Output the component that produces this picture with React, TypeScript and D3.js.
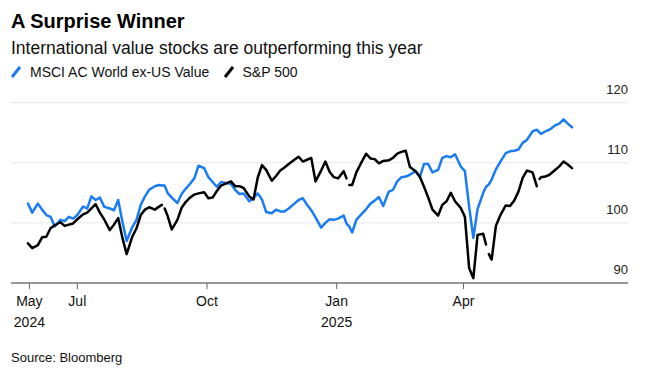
import React from 'react';
import * as d3 from 'd3';

const dates = [
  '2024-05-27','2024-05-30','2024-06-03','2024-06-06','2024-06-09','2024-06-12','2024-06-15','2024-06-19','2024-06-22','2024-06-25',
  '2024-06-28','2024-07-01','2024-07-05','2024-07-08','2024-07-11','2024-07-14','2024-07-17','2024-07-20','2024-07-24','2024-07-27',
  '2024-07-30','2024-08-02','2024-08-05','2024-08-09','2024-08-12','2024-08-15','2024-08-18','2024-08-21','2024-08-25','2024-08-28',
  '2024-08-30','2024-08-31','2024-09-01','2024-09-03','2024-09-06','2024-09-10','2024-09-13','2024-09-16','2024-09-19','2024-09-22',
  '2024-09-25','2024-09-29','2024-10-02','2024-10-05','2024-10-08','2024-10-11','2024-10-15','2024-10-18','2024-10-21','2024-10-24',
  '2024-10-27','2024-10-31','2024-11-03','2024-11-06','2024-11-09','2024-11-12','2024-11-16','2024-11-19','2024-11-22','2024-11-25',
  '2024-11-28','2024-12-02','2024-12-05','2024-12-08','2024-12-11','2024-12-14','2024-12-17','2024-12-21','2024-12-24','2024-12-27',
  '2024-12-30','2025-01-02','2025-01-06','2025-01-08','2025-01-09','2025-01-10','2025-01-12','2025-01-15','2025-01-18','2025-01-22',
  '2025-01-25','2025-01-28','2025-01-31','2025-02-03','2025-02-07','2025-02-10','2025-02-13','2025-02-16','2025-02-19','2025-02-22',
  '2025-02-26','2025-03-01','2025-03-04','2025-03-07','2025-03-10','2025-03-14','2025-03-17','2025-03-20','2025-03-23','2025-03-26',
  '2025-03-30','2025-04-02','2025-04-05','2025-04-08','2025-04-11','2025-04-15','2025-04-17','2025-04-18','2025-04-19','2025-04-21',
  '2025-04-24','2025-04-27','2025-05-01','2025-05-04','2025-05-07','2025-05-10','2025-05-13','2025-05-16','2025-05-20','2025-05-23',
  '2025-05-24','2025-05-25','2025-05-26','2025-05-29','2025-06-01','2025-06-05','2025-06-08','2025-06-11','2025-06-14','2025-06-17',
];

const msciValues = [
  103.2, 101.7, 103.2, 102.2, 101.3, 101.0, 99.4, 100.5, 100.3, 101.0,
  100.7, 101.3, 102.7, 102.4, 104.4, 103.8, 104.2, 102.7, 102.4, 102.1,
  103.8, 100.2, 97.0, 99.3, 100.5, 103.0, 104.4, 105.5, 106.1, 106.3,
  106.2, 106.2, 106.2, 105.0, 104.2, 103.3, 104.8, 105.7, 106.5, 107.4,
  109.5, 109.1, 107.6, 106.8, 106.0, 106.8, 106.6, 106.5, 105.5, 104.8,
  104.9, 103.6, 104.1, 104.9, 103.9, 101.8, 101.6, 102.2, 101.9, 101.9,
  102.4, 103.2, 103.8, 104.1, 103.0, 102.1, 100.9, 99.2, 100.0, 100.6,
  100.5, 100.7, 101.2, 99.9, 99.6, 99.4, 98.4, 100.5, 101.3, 102.3,
  103.2, 103.7, 104.3, 102.8, 105.2, 105.5, 106.9, 107.6, 107.7, 108.0,
  108.6, 107.6, 109.8, 109.8, 108.4, 108.8, 110.8, 111.1, 110.9, 111.4,
  109.4, 108.6, 102.7, 97.5, 102.3, 105.0, 106.0, 106.2, 106.4, 107.2,
  108.9, 110.1, 111.6, 111.9, 112.0, 112.2, 113.3, 113.8, 115.2, 115.5,
  115.3, 115.0, 114.8, 115.2, 115.5, 116.2, 116.5, 117.2, 116.5, 115.9,
];

const spxValues: (number | null)[] = [
  96.6, 95.8, 96.3, 97.6, 97.7, 99.1, 99.6, 100.1, 99.5, 99.7,
  99.9, 100.6, 101.4, 101.7, 102.4, 103.1, 101.7, 100.6, 98.8, 99.7,
  100.8, 97.5, 94.8, 97.7, 99.1, 101.3, 102.2, 102.6, 102.2, 102.7,
  103.0, null, 102.4, 101.2, 98.9, 100.5, 102.5, 103.5, 104.2, 104.7,
  104.9, 105.1, 104.1, 104.2, 105.3, 106.2, 106.6, 106.9, 106.1, 106.1,
  105.8, 104.4, 103.9, 107.5, 109.6, 108.8, 107.0, 107.8, 108.7, 109.2,
  109.8, 110.5, 111.0, 110.2, 110.5, 110.8, 106.9, 108.7, 110.2, 108.5,
  107.6, 107.4, 108.6, 107.4, null, 106.3, 106.3, 108.4, 109.8, 111.5,
  110.7, 110.6, 109.9, 110.3, 110.4, 110.8, 111.5, 111.8, 112.0, 109.3,
  108.6, 107.7, 106.0, 104.2, 102.2, 101.2, 103.0, 103.6, 105.0, 103.6,
  102.5, 101.0, 92.5, 90.8, 98.0, 98.2, 96.4, null, 94.8, 93.9,
  99.5, 101.2, 102.9, 102.8, 103.7, 105.2, 107.5, 108.7, 108.4, 106.1,
  null, 107.3, 107.6, 107.7, 108.0, 108.8, 109.4, 110.2, 109.7, 109.1,
];

const yTickValues = [90, 100, 110, 120];
const xTickDates = ['2024-05-28', '2024-07-01', '2024-10-01', '2025-01-01', '2025-04-01'];
const xTickLabels = ['May', 'Jul', 'Oct', 'Jan', 'Apr'];
const xTickYears = ['2024', '', '', '2025', ''];

const seriesNames = ['MSCI AC World ex-US Value', 'S&P 500'];
const seriesColors = ['#1a7cf5', '#000000'];

const FONT = '"Liberation Sans", Arial, Helvetica, sans-serif';

export default function App() {
  const W = 654;
  const H = 377;
  const parse = d3.timeParse('%Y-%m-%d');
  const ds = dates.map((s) => parse(s) as Date);

  const left = 11;
  const right = 628;
  const x = d3.scaleTime().domain(d3.extent(ds) as [Date, Date]).range([28, 572]);
  const y = d3.scaleLinear().domain([90, 120]).range([283, 102.6]);

  const line = d3
    .line<[Date, number | null]>()
    .defined((d) => d[1] != null)
    .x((d) => x(d[0]))
    .y((d) => y(d[1] as number));

  const msciPts: [Date, number | null][] = ds.map((d, i) => [d, msciValues[i]]);
  const spxPts: [Date, number | null][] = ds.map((d, i) => [d, spxValues[i]]);

  const legendX = [11, 224];
  const legendTextX = [30, 242.5];

  return (
    <svg
      width={W}
      height={H}
      viewBox={`0 0 ${W} ${H}`}
      style={{ position: 'absolute', left: 0, top: 0, background: '#fff' }}
      fontFamily={FONT}
    >
      <rect x={0} y={0} width={W} height={H} fill="#fff" />
      <text x={11} y={27.5} fontSize={20} fontWeight={700} fill="#000">
        A Surprise Winner
      </text>
      <text x={11} y={53.5} fontSize={17.5} fill="#111">
        International value stocks are outperforming this year
      </text>

      {seriesNames.map((name, i) => (
        <g key={name}>
          <line
            x1={legendX[i] + 1}
            y1={77}
            x2={legendX[i] + 9}
            y2={67}
            stroke={seriesColors[i]}
            strokeWidth={3}
          />
          <text x={legendTextX[i]} y={77} fontSize={14} fill="#111">
            {name}
          </text>
        </g>
      ))}

      {yTickValues
        .filter((v) => v !== 90)
        .map((v) => (
          <line key={`g${v}`} x1={left} x2={right} y1={y(v)} y2={y(v)} stroke="#e6e6e6" strokeWidth={1} />
        ))}

      {yTickValues.map((v) => (
        <text key={`yl${v}`} x={right} y={y(v) - 9} fontSize={13} textAnchor="end" fill="#222">
          {v}
        </text>
      ))}

      <path d={line(msciPts) || ''} fill="none" stroke={seriesColors[0]} strokeWidth={2.5} strokeLinejoin="round" strokeLinecap="round" />
      <path d={line(spxPts) || ''} fill="none" stroke={seriesColors[1]} strokeWidth={2.5} strokeLinejoin="round" strokeLinecap="round" />

      <line x1={left} x2={right} y1={y(90)} y2={y(90)} stroke="#333" strokeWidth={1.2} />

      {xTickDates.map((s, i) => {
        const xx = x(parse(s) as Date);
        return (
          <g key={s}>
            <line x1={xx} x2={xx} y1={y(90)} y2={y(90) + 6} stroke="#666" strokeWidth={1} />
            <text x={xx} y={306} fontSize={14} textAnchor="middle" fill="#111">
              {xTickLabels[i]}
            </text>
            {xTickYears[i] && (
              <text x={xx} y={327} fontSize={14} textAnchor="middle" fill="#111">
                {xTickYears[i]}
              </text>
            )}
          </g>
        );
      })}

      <text x={11} y={362} fontSize={13} fill="#111">
        Source: Bloomberg
      </text>
    </svg>
  );
}
